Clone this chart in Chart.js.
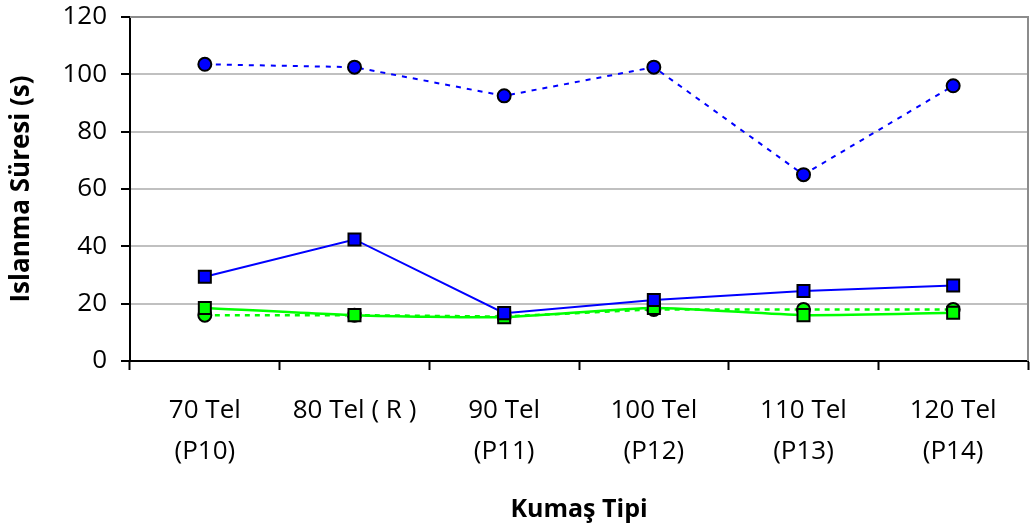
<!DOCTYPE html>
<html>
<head>
<meta charset="utf-8">
<script src="https://cdn.jsdelivr.net/npm/chart.js@4/dist/chart.umd.min.js"></script>
<style>
  html, body { margin: 0; padding: 0; background: #fff; }
  #wrap { width: 1033px; height: 529px; }
</style>
</head>
<body>
<div id="wrap"><canvas id="chart-line"></canvas></div>
<script>
let categories = [["70 Tel", "(P10)"], "80 Tel ( R )", ["90 Tel", "(P11)"], ["100 Tel", "(P12)"], ["110 Tel", "(P13)"], ["120 Tel", "(P14)"]]

let blueCircles = [103.5, 102.5, 92.5, 102.5, 65, 96]
let blueSquares = [29.4, 42.4, 16.7, 21.3, 24.4, 26.3]
let greenCircles = [16, 16, 15.5, 18, 18, 18]
let greenSquares = [18.5, 16, 15.3, 18.5, 16, 16.8]

let yTitle = "Islanma Süresi (s)"
let xTitle = "Kumaş Tipi"

let fontName = "'Open Sans', sans-serif"

// frame on top and right like the excel plot area
let framePlugin = {
    id: "frame",
    afterDatasetsDraw(chart) {
        let a = chart.chartArea
        let ctx = chart.ctx
        ctx.save()
        ctx.strokeStyle = "#8c8c8c"
        ctx.lineWidth = 2
        ctx.beginPath()
        ctx.moveTo(a.left, a.top)
        ctx.lineTo(a.right, a.top)
        ctx.lineTo(a.right, a.bottom)
        ctx.stroke()
        ctx.restore()
    }
}

let lineData = {
    labels: categories,
    datasets: [
        {
            data: blueSquares,
            borderColor: "#0000ff",
            backgroundColor: "#0000ff",
            borderWidth: 2,
            pointStyle: "rect",
            pointRadius: 8.5,
            pointBorderColor: "#000",
            pointBorderWidth: 2,
            tension: 0
        },
        {
            data: greenSquares,
            borderColor: "#00ff00",
            backgroundColor: "#00ff00",
            borderWidth: 2.5,
            pointStyle: "rect",
            pointRadius: 8.5,
            pointBorderColor: "#000",
            pointBorderWidth: 2,
            tension: 0.2
        },
        {
            data: greenCircles,
            borderColor: "#00ff00",
            backgroundColor: "#00ff00",
            borderWidth: 2.5,
            borderDash: [5, 5],
            pointStyle: "circle",
            pointRadius: 6.5,
            pointBorderColor: "#000",
            pointBorderWidth: 2,
            tension: 0
        },
        {
            data: blueCircles,
            borderColor: "#0000ff",
            backgroundColor: "#0000ff",
            borderWidth: 2,
            borderDash: [5, 6],
            pointStyle: "circle",
            pointRadius: 6.5,
            pointBorderColor: "#000",
            pointBorderWidth: 2,
            tension: 0
        }
    ]
};

let lineChart = new Chart(
    document.getElementById("chart-line").getContext('2d'),
    {
        type: "line",
        data: lineData,
        plugins: [framePlugin],
        options: {
            responsive: true,
            maintainAspectRatio: false,
            animation: false,
            layout: {
                autoPadding: false,
                padding: { top: 17, right: 5, left: 0, bottom: 0 }
            },
            plugins: {
                legend: { display: false },
                tooltip: { enabled: false }
            },
            scales: {
                x: {
                    offset: true,
                    afterFit: (s) => {
                        s.height = 168
                        s.paddingLeft = 0
                        s.paddingRight = 0
                    },
                    grid: {
                        offset: true,
                        drawOnChartArea: false,
                        tickColor: "#000",
                        tickLength: 9,
                        tickWidth: 2
                    },
                    border: { color: "#000", width: 2 },
                    ticks: {
                        color: "#000",
                        padding: 20,
                        maxRotation: 0,
                        autoSkip: false,
                        font: { family: fontName, size: 26, lineHeight: 1.58 }
                    },
                    title: {
                        display: true,
                        text: xTitle,
                        color: "#000",
                        font: { family: fontName, size: 25, weight: "bold" },
                        padding: { top: 0, bottom: 4 }
                    }
                },
                y: {
                    min: 0,
                    max: 120,
                    afterFit: (s) => {
                        s.width = 130
                        s.paddingTop = 0
                        s.paddingBottom = 0
                    },
                    grid: {
                        color: "#c0c0c0",
                        lineWidth: 2,
                        tickColor: "#000",
                        tickLength: 9,
                        tickWidth: 2
                    },
                    border: { color: "#000", width: 2 },
                    ticks: {
                        stepSize: 20,
                        color: "#000",
                        padding: 14,
                        font: { family: fontName, size: 26 }
                    },
                    title: {
                        display: true,
                        text: yTitle,
                        color: "#000",
                        font: { family: fontName, size: 26, weight: "bold" },
                        padding: { top: 6, bottom: 0 }
                    }
                }
            }
        }
    }
)
</script>
</body>
</html>
